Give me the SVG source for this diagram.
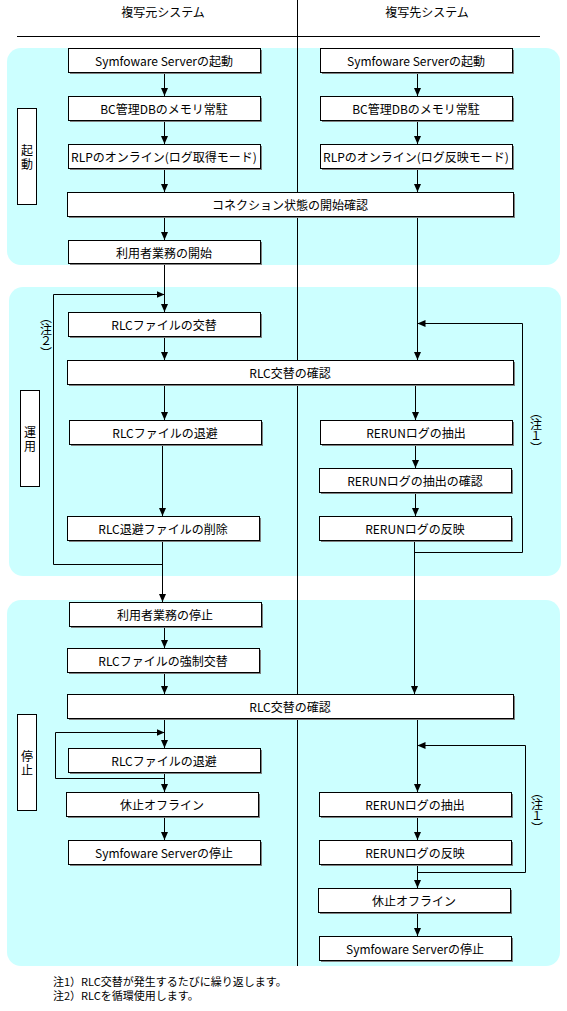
<svg xmlns="http://www.w3.org/2000/svg" width="567" height="1011" viewBox="0 0 567 1011">
<style>
text{font-family:"Noto Sans CJK JP","Noto Sans CJK SC",sans-serif;font-size:12px;fill:#000}
.t{text-anchor:middle;dominant-baseline:central}
.bg{fill:#ccffff}
.sh{fill:#808080}
.bx{fill:#fff;stroke:#000;stroke-width:1}
.ln{fill:none;stroke:#000;stroke-width:1}
.vt{writing-mode:vertical-rl;text-anchor:middle}
.nt{font-size:11px;dominant-baseline:central}
</style>
<defs>
<marker id="ah" viewBox="0 0 8 8" refX="8" refY="4" markerWidth="8" markerHeight="8" markerUnits="userSpaceOnUse" orient="auto">
<path d="M0,0.5 L8,4 L0,7.5 Z" fill="#000"/>
</marker>
</defs>
<rect width="567" height="1011" fill="#fff"/>
<g id="headers">
<text class="t" x="163" y="11">複写元システム</text>
<text class="t" x="427" y="11">複写先システム</text>
<line class="ln" x1="17" y1="36.5" x2="540" y2="36.5"/>
</g>
<g id="sections">
<rect class="bg" x="7" y="48" width="553" height="217" rx="14"/>
<rect class="bg" x="9" y="287" width="552" height="289" rx="14"/>
<rect class="bg" x="7" y="600" width="553" height="366" rx="14"/>
</g>
<line id="separator" class="ln" x1="297.5" y1="0" x2="297.5" y2="966"/>
<g id="connectors" class="ln">
<line x1="164.5" y1="72" x2="164.5" y2="96" marker-end="url(#ah)"/>
<line x1="164.5" y1="120" x2="164.5" y2="144" marker-end="url(#ah)"/>
<line x1="164.5" y1="168" x2="164.5" y2="192" marker-end="url(#ah)"/>
<line x1="164.5" y1="216" x2="164.5" y2="240" marker-end="url(#ah)"/>
<line x1="164.5" y1="264" x2="164.5" y2="312" marker-end="url(#ah)"/>
<polyline points="162.5,564.5 53.5,564.5 53.5,294.5 164.5,294.5" marker-end="url(#ah)"/>
<line x1="164.5" y1="336" x2="164.5" y2="360" marker-end="url(#ah)"/>
<line x1="164.5" y1="384" x2="164.5" y2="420" marker-end="url(#ah)"/>
<line x1="162.5" y1="444" x2="162.5" y2="516" marker-end="url(#ah)"/>
<line x1="162.5" y1="540" x2="162.5" y2="602" marker-end="url(#ah)"/>
<line x1="164.5" y1="626" x2="164.5" y2="648" marker-end="url(#ah)"/>
<line x1="164.5" y1="672" x2="164.5" y2="694" marker-end="url(#ah)"/>
<line x1="164.5" y1="718" x2="164.5" y2="748" marker-end="url(#ah)"/>
<polyline points="164.5,778.5 55.5,778.5 55.5,732.5 164.5,732.5" marker-end="url(#ah)"/>
<line x1="164.5" y1="772" x2="164.5" y2="792" marker-end="url(#ah)"/>
<line x1="164.5" y1="816" x2="164.5" y2="840" marker-end="url(#ah)"/>
<line x1="417.5" y1="72" x2="417.5" y2="96" marker-end="url(#ah)"/>
<line x1="417.5" y1="120" x2="417.5" y2="144" marker-end="url(#ah)"/>
<line x1="417.5" y1="168" x2="417.5" y2="192" marker-end="url(#ah)"/>
<line x1="417.5" y1="216" x2="417.5" y2="360" marker-end="url(#ah)"/>
<polyline points="414.5,552.5 522.5,552.5 522.5,323.5 417.5,323.5" marker-end="url(#ah)"/>
<line x1="415.5" y1="384" x2="415.5" y2="420" marker-end="url(#ah)"/>
<line x1="415.5" y1="444" x2="415.5" y2="468" marker-end="url(#ah)"/>
<line x1="415.5" y1="492" x2="415.5" y2="516" marker-end="url(#ah)"/>
<line x1="414.5" y1="540" x2="414.5" y2="694" marker-end="url(#ah)"/>
<line x1="417.5" y1="718" x2="417.5" y2="792" marker-end="url(#ah)"/>
<polyline points="417.5,872.5 525.5,872.5 525.5,745.5 417.5,745.5" marker-end="url(#ah)"/>
<line x1="417.5" y1="816" x2="417.5" y2="840" marker-end="url(#ah)"/>
<line x1="417.5" y1="864" x2="417.5" y2="888" marker-end="url(#ah)"/>
<line x1="417.5" y1="912" x2="417.5" y2="936" marker-end="url(#ah)"/>
</g>
<g id="labels">
<g id="lbl-start"><rect class="bx" x="17.5" y="108.5" width="19" height="96"/><text class="vt" x="27" y="158" style="letter-spacing:2px">起動</text></g>
<g id="lbl-run"><rect class="bx" x="20.5" y="390.5" width="19" height="96"/><text class="vt" x="30" y="440" style="letter-spacing:2px">運用</text></g>
<g id="lbl-stop"><rect class="bx" x="17.5" y="714.5" width="19" height="96"/><text class="vt" x="27" y="764" style="letter-spacing:2px">停止</text></g>
<text class="vt" x="46" y="335">（注２）</text>
<text class="vt" x="536" y="430">（注１）</text>
<text class="vt" x="537" y="810">（注１）</text>
</g>
<g id="n1"><rect class="sh" x="70" y="50" width="192" height="24"/><rect class="bx" x="68.5" y="48.5" width="192" height="24"/><text class="t" x="164" y="60">Symfoware Serverの起動</text></g>
<g id="n2"><rect class="sh" x="70" y="98" width="192" height="24"/><rect class="bx" x="68.5" y="96.5" width="192" height="24"/><text class="t" x="164" y="108">BC管理DBのメモリ常駐</text></g>
<g id="n3"><rect class="sh" x="70" y="146" width="192" height="24"/><rect class="bx" x="68.5" y="144.5" width="192" height="24"/><text class="t" x="164" y="156">RLPのオンライン(ログ取得モード)</text></g>
<g id="r1"><rect class="sh" x="322" y="50" width="192" height="24"/><rect class="bx" x="320.5" y="48.5" width="192" height="24"/><text class="t" x="416" y="60">Symfoware Serverの起動</text></g>
<g id="r2"><rect class="sh" x="322" y="98" width="192" height="24"/><rect class="bx" x="320.5" y="96.5" width="192" height="24"/><text class="t" x="416" y="108">BC管理DBのメモリ常駐</text></g>
<g id="r3"><rect class="sh" x="322" y="146" width="192" height="24"/><rect class="bx" x="320.5" y="144.5" width="192" height="24"/><text class="t" x="416" y="156">RLPのオンライン(ログ反映モード)</text></g>
<g id="w1"><rect class="sh" x="69" y="194" width="446" height="24"/><rect class="bx" x="67.5" y="192.5" width="446" height="24"/><text class="t" x="290" y="204">コネクション状態の開始確認</text></g>
<g id="n4"><rect class="sh" x="70" y="242" width="192" height="23"/><rect class="bx" x="68.5" y="240.5" width="192" height="23"/><text class="t" x="164" y="252">利用者業務の開始</text></g>
<g id="n5"><rect class="sh" x="70" y="314" width="192" height="24"/><rect class="bx" x="68.5" y="312.5" width="192" height="24"/><text class="t" x="164" y="324">RLCファイルの交替</text></g>
<g id="w2"><rect class="sh" x="69" y="362" width="446" height="24"/><rect class="bx" x="67.5" y="360.5" width="446" height="24"/><text class="t" x="290" y="372">RLC交替の確認</text></g>
<g id="n6"><rect class="sh" x="71" y="422" width="192" height="24"/><rect class="bx" x="69.5" y="420.5" width="192" height="24"/><text class="t" x="165" y="432">RLCファイルの退避</text></g>
<g id="n7"><rect class="sh" x="69" y="518" width="192" height="24"/><rect class="bx" x="67.5" y="516.5" width="192" height="24"/><text class="t" x="163" y="528">RLC退避ファイルの削除</text></g>
<g id="r4"><rect class="sh" x="322" y="422" width="192" height="24"/><rect class="bx" x="320.5" y="420.5" width="192" height="24"/><text class="t" x="416" y="432">RERUNログの抽出</text></g>
<g id="r5"><rect class="sh" x="321" y="470" width="192" height="24"/><rect class="bx" x="319.5" y="468.5" width="192" height="24"/><text class="t" x="415" y="480">RERUNログの抽出の確認</text></g>
<g id="r6"><rect class="sh" x="321" y="518" width="192" height="24"/><rect class="bx" x="319.5" y="516.5" width="192" height="24"/><text class="t" x="415" y="528">RERUNログの反映</text></g>
<g id="n8"><rect class="sh" x="71" y="604" width="192" height="24"/><rect class="bx" x="69.5" y="602.5" width="192" height="24"/><text class="t" x="165" y="614">利用者業務の停止</text></g>
<g id="n9"><rect class="sh" x="69" y="650" width="192" height="24"/><rect class="bx" x="67.5" y="648.5" width="192" height="24"/><text class="t" x="163" y="660">RLCファイルの強制交替</text></g>
<g id="w3"><rect class="sh" x="69" y="696" width="446" height="24"/><rect class="bx" x="67.5" y="694.5" width="446" height="24"/><text class="t" x="290" y="706">RLC交替の確認</text></g>
<g id="n10"><rect class="sh" x="70" y="750" width="192" height="24"/><rect class="bx" x="68.5" y="748.5" width="192" height="24"/><text class="t" x="164" y="760">RLCファイルの退避</text></g>
<g id="n11"><rect class="sh" x="68" y="794" width="192" height="24"/><rect class="bx" x="66.5" y="792.5" width="192" height="24"/><text class="t" x="162" y="804">休止オフライン</text></g>
<g id="n12"><rect class="sh" x="70" y="842" width="192" height="24"/><rect class="bx" x="68.5" y="840.5" width="192" height="24"/><text class="t" x="164" y="852">Symfoware Serverの停止</text></g>
<g id="r7"><rect class="sh" x="321" y="794" width="192" height="24"/><rect class="bx" x="319.5" y="792.5" width="192" height="24"/><text class="t" x="415" y="804">RERUNログの抽出</text></g>
<g id="r8"><rect class="sh" x="321" y="842" width="192" height="24"/><rect class="bx" x="319.5" y="840.5" width="192" height="24"/><text class="t" x="415" y="852">RERUNログの反映</text></g>
<g id="r9"><rect class="sh" x="320" y="890" width="192" height="24"/><rect class="bx" x="318.5" y="888.5" width="192" height="24"/><text class="t" x="414" y="900">休止オフライン</text></g>
<g id="r10"><rect class="sh" x="321" y="938" width="192" height="24"/><rect class="bx" x="319.5" y="936.5" width="192" height="24"/><text class="t" x="415" y="948">Symfoware Serverの停止</text></g>
<g id="notes">
<text class="nt" x="53" y="981">注1）RLC交替が発生するたびに繰り返します。</text>
<text class="nt" x="53" y="995">注2）RLCを循環使用します。</text>
</g>
</svg>
